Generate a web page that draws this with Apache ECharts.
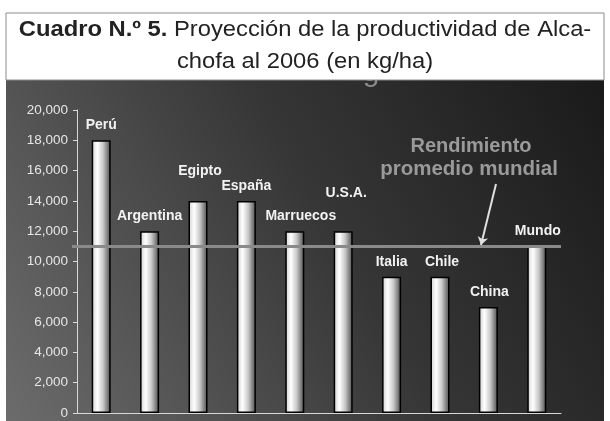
<!DOCTYPE html>
<html><head><meta charset="utf-8">
<script src="https://cdn.jsdelivr.net/npm/echarts@6/dist/echarts.min.js"></script>
<style>html,body{margin:0;padding:0;background:#fff}#c{width:610px;height:421px}</style>
</head><body><div id="c"></div>
<script>
const categories = ['Perú','Argentina','Egipto','España','Marruecos','U.S.A.','Italia','Chile','China','Mundo'];
const values = [18000,12000,14000,14000,12000,12000,9000,9000,7000,11000];
const averageValue = 11000;
const averageLabel = ['Rendimiento', 'promedio mundial'];
const titleBold = 'Cuadro N.º 5.';
const titleLine1 = ' Proyección de la productividad de Alca-';
const titleLine2 = 'chofa al 2006 (en kg/ha)';

const labelOffsets = [[0,0],[0,0],[2,-15],[0,0],[6,0],[3,-23],[0,0],[2,0],[1,0],[1,0]];

const chart = echarts.init(document.getElementById('c'), null, {renderer:'canvas'});
const font = '"Liberation Sans", Arial, sans-serif';
const barGrad = new echarts.graphic.LinearGradient(0,0,1,0,[
  {offset:0, color:'#cfcfcf'},
  {offset:0.3, color:'#ffffff'},
  {offset:0.6, color:'#c8c8c8'},
  {offset:1, color:'#4a4a4a'}
]);
chart.setOption({
  backgroundColor:'#ffffff',
  animation:false,
  graphic:[
    {type:'rect', z:-10, silent:true, shape:{x:6,y:80,width:598,height:341},
     style:{fill:new echarts.graphic.LinearGradient(0,1,1,0,[
       {offset:0,color:'#6c6c6c'},{offset:0.55,color:'#363636'},{offset:1,color:'#1a1a1a'}])}},
    {type:'text', z:-5, style:{x:371, y:88, align:'center', verticalAlign:'bottom', text:'g', fill:'#8a8a8a', font:'30px '+font}},
    {type:'rect', z:-1, shape:{x:6,y:13,width:598,height:67}, style:{fill:'#ffffff', stroke:'#8a8a8a', lineWidth:1}},
    {type:'text', z:1, style:{x:305, y:19, align:'center', verticalAlign:'top', rich:{b:{font:'bold 21.5px '+font, fill:'#222'}, r:{font:'21.5px '+font, fill:'#222'}}, text:'{b|'+titleBold+'}{r|'+titleLine1+'}'}, scaleX:1.105, originX:305, originY:19},
    {type:'text', z:1, style:{x:305, y:51, align:'center', verticalAlign:'top', text:titleLine2, font:'21.5px '+font, fill:'#222'}, scaleX:1.105, originX:305, originY:51},
    {type:'text', z:5, style:{x:471, y:146, align:'center', verticalAlign:'middle', text:averageLabel[0], font:'bold 20px '+font, fill:'#9a9a9a'}},
    {type:'text', z:5, style:{x:469, y:169, align:'center', verticalAlign:'middle', text:averageLabel[1], font:'bold 20.5px '+font, fill:'#9a9a9a'}}
  ],
  grid:{left:77, right:49, top:110, bottom:8, containLabel:false},
  xAxis:{type:'category', data:categories,
    axisLine:{lineStyle:{color:'#d8d8d8', width:1}}, axisTick:{show:false}, axisLabel:{show:false}},
  yAxis:{type:'value', min:0, max:20000, interval:2000,
    axisLine:{show:true, lineStyle:{color:'#d8d8d8'}}, axisTick:{show:true, length:4, lineStyle:{color:'#d8d8d8'}},
    splitLine:{show:false},
    axisLabel:{color:'#e6e6e6', fontFamily:font, fontSize:13.5, margin:9, formatter:v=>v.toLocaleString('en-US')}},
  series:[{
    type:'bar', barWidth:19,
    data: values.map((v,i)=>({value:v, label:{offset:labelOffsets[i]}})),
    itemStyle:{color:barGrad, borderColor:'#000', borderWidth:1.5},
    label:{show:true, position:'top', distance:8, formatter:p=>categories[p.dataIndex], color:'#f2f2f2', fontFamily:font, fontWeight:'bold', fontSize:14},
    markLine:{silent:true, animation:false, label:{show:false},
      data:[
        [{yAxis:averageValue, x:72, symbol:'none', lineStyle:{color:'#8a8a8a', width:3, type:'solid'}},{yAxis:averageValue, x:561, symbol:'none'}],
        [{x:496, y:184, symbol:'none', lineStyle:{color:'#e0e0e0', width:2, type:'solid'}},{x:481, y:245, symbol:'arrow', symbolSize:8}]
      ]}
  }]
});
</script></body></html>
